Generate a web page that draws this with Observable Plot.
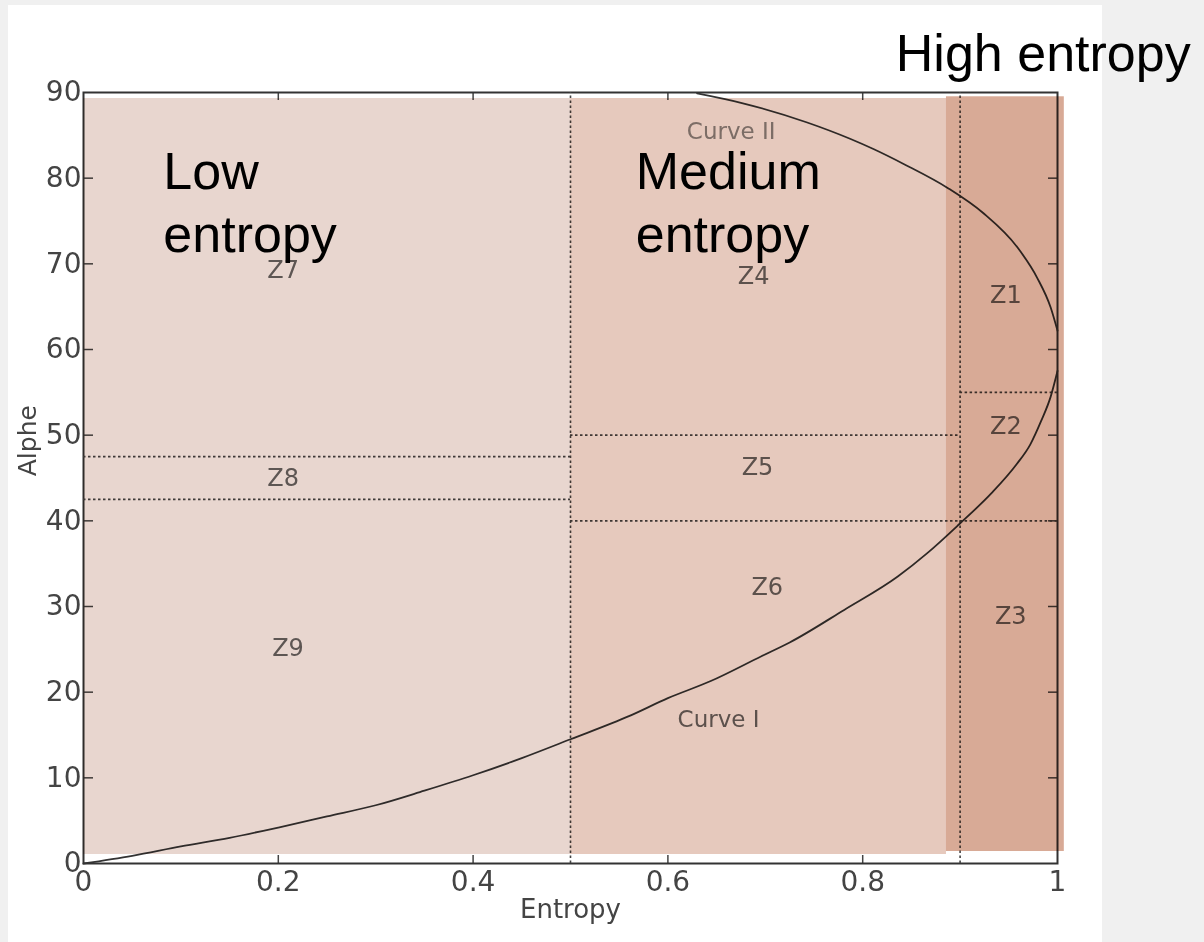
<!DOCTYPE html>
<html>
<head>
<meta charset="utf-8">
<script src="https://cdn.jsdelivr.net/npm/d3@7"></script>
<script src="https://cdn.jsdelivr.net/npm/@observablehq/plot@0.6"></script>
<style>
  html, body { margin: 0; padding: 0; background: #f0f0f0; }
  #panel { position: absolute; left: 8px; top: 5px; width: 1094px; height: 937px; background: #ffffff; }
  #chart { position: absolute; left: 0; top: 0; }
</style>
</head>
<body>
<div id="panel"></div>
<div id="chart"></div>
<script>
// Axis ticks
const xTicks = [0, 0.2, 0.4, 0.6, 0.8, 1];
const yTicks = [0, 10, 20, 30, 40, 50, 60, 70, 80, 90];
const xInnerTicks = [0.2, 0.4, 0.6, 0.8];
const yInnerTicks = [10, 20, 30, 40, 50, 60, 70, 80];

// Curve I (lower bound)
const curveI_H = [0, 0.05, 0.1, 0.15, 0.2, 0.25, 0.3, 0.35, 0.4, 0.45, 0.5, 0.56, 0.6, 0.644, 0.696, 0.725, 0.781, 0.836, 0.866, 0.899, 0.932, 0.958, 0.972, 0.983, 0.993, 1.0];
const curveI_A = [0, 0.9, 2.0, 3.0, 4.2, 5.5, 6.8, 8.5, 10.3, 12.3, 14.5, 17.2, 19.3, 21.3, 24.2, 25.8, 29.6, 33.5, 36.2, 39.6, 43.2, 46.6, 48.9, 51.6, 54.5, 57.5];

// Curve II (upper bound)
const curveII_H = [0.630, 0.675, 0.743, 0.787, 0.811, 0.843, 0.888, 0.924, 0.959, 0.979, 0.993, 1.0];
const curveII_A = [89.9, 88.8, 86.5, 84.6, 83.4, 81.6, 78.8, 75.9, 71.9, 68.4, 64.9, 62.2];

// Zone boundaries
const entropyBounds = [0.5, 0.9];
const alphaBound = [47.5, 42.5, 50, 40, 55, 40];
const alphaBoundFrom = [0, 0, 0.5, 0.5, 0.9, 0.9];
const alphaBoundTo = [0.5, 0.5, 0.9, 0.9, 1, 1];

// Zone labels
const zoneNames = ["Z1", "Z2", "Z3", "Z4", "Z5", "Z6", "Z7", "Z8", "Z9"];
const zoneH = [0.947, 0.947, 0.952, 0.688, 0.692, 0.702, 0.205, 0.205, 0.21];
const zoneA = [66.3, 51.0, 28.8, 68.6, 46.2, 32.2, 69.2, 45.0, 25.1];

const curveNames = ["Curve I", "Curve II"];
const curveLabelH = [0.652, 0.665];
const curveLabelA = [16.8, 85.4];

// Entropy region highlights
const regionNames = ["Low entropy", "Medium entropy", "High entropy"];
const regionH1 = [0, 0.5, 0.886];
const regionH2 = [0.5, 0.886, 1.007];
const regionA1 = [1.05, 1.05, 1.4];
const regionA2 = [89.3, 89.3, 89.5];
const regionColors = ["#e8d6cf", "#e6c9bd", "#d8aa96"];

// Region caption lines
const captionText = ["Low", "entropy", "Medium", "entropy", "High entropy"];
const captionH = [0.082, 0.082, 0.567, 0.567, 0.834];
const captionA = [80.7, 73.3, 80.7, 73.3, 94.5];

const curveI = curveI_H.map((h, i) => ({h, a: curveI_A[i]}));
const curveII = curveII_H.map((h, i) => ({h, a: curveII_A[i]}));
const hBounds = alphaBound.map((a, i) => ({a, h1: alphaBoundFrom[i], h2: alphaBoundTo[i]}));
const zones = zoneNames.map((z, i) => ({z, h: zoneH[i], a: zoneA[i]}));
const curveLabels = curveNames.map((c, i) => ({c, h: curveLabelH[i], a: curveLabelA[i]}));
const regions = regionNames.map((r, i) => ({r, h1: regionH1[i], h2: regionH2[i], a1: regionA1[i], a2: regionA2[i], color: regionColors[i]}));
const captions = captionText.map((t, i) => ({t, h: captionH[i], a: captionA[i]}));

const W = 1204, H = 942, mL = 83, mR = 147, mT = 92, mB = 79;
const frameW = W - mL - mR, frameH = H - mT - mB;

const chart = Plot.plot({
  width: W, height: H,
  marginLeft: mL, marginRight: mR, marginTop: mT, marginBottom: mB,
  x: {domain: [0, 1]},
  y: {domain: [0, 90]},
  style: {background: "transparent", fontFamily: "DejaVu Sans", overflow: "visible"},
  marks: [
    Plot.axisX({ticks: xTicks, tickSize: 0, tickPadding: 8, fontSize: 28, fill: "#444",
      tickFormat: d => d === 0 ? "0" : d === 1 ? "1" : d.toFixed(1), label: null}),
    Plot.axisY({ticks: yTicks, tickSize: 0, tickPadding: 2, fontSize: 28, fill: "#444", label: null}),
    // inward tick marks
    Plot.tickY(yInnerTicks, {y: d => d, insetRight: frameW - 10, stroke: "#444", strokeWidth: 1.5}),
    Plot.tickY(yInnerTicks, {y: d => d, insetLeft: frameW - 9, stroke: "#444", strokeWidth: 1.5}),
    Plot.tickX(xInnerTicks, {x: d => d, insetTop: frameH - 8, stroke: "#444", strokeWidth: 1.5}),
    Plot.tickX(xInnerTicks, {x: d => d, insetBottom: frameH - 8, stroke: "#444", strokeWidth: 1.5}),
    Plot.frame({stroke: "#333", strokeWidth: 2}),
    // zone boundaries
    Plot.ruleX(entropyBounds, {x: d => d, y1: 0, y2: 90, stroke: "#444", strokeWidth: 1.6, strokeDasharray: "2.5,2.5"}),
    Plot.ruleY(hBounds, {y: "a", x1: "h1", x2: "h2", stroke: "#444", strokeWidth: 1.6, strokeDasharray: "2.5,2.5"}),
    // curves
    Plot.line(curveI, {x: "h", y: "a", stroke: "#333", strokeWidth: 1.8, curve: "monotone-x"}),
    Plot.line(curveII, {x: "h", y: "a", stroke: "#333", strokeWidth: 1.8, curve: "monotone-x"}),
    // zone and curve labels
    Plot.text(zones, {x: "h", y: "a", text: "z", fontSize: 24, fill: "#666"}),
    Plot.text(curveLabels, {x: "h", y: "a", text: "c", fontSize: 23, fill: d => d.c === "Curve II" ? "#8a8a8a" : "#666"}),
    // axis titles
    Plot.text(["Entropy"], {x: [0.5], frameAnchor: "bottom", dy: 54, fontSize: 26, fill: "#444"}),
    Plot.text(["Alphe"], {y: [45.2], frameAnchor: "left", dx: -56, rotate: -90, fontSize: 25, fill: "#444"}),
    // highlighted entropy regions (semi-transparent look via multiply)
    Plot.rectY(regions, {x1: "h1", x2: "h2", y1: "a1", y2: "a2", fill: "color", mixBlendMode: "multiply"}),
    // captions
    Plot.text(captions, {x: "h", y: "a", text: "t", textAnchor: "start", fontSize: 52,
      fontFamily: "Liberation Sans, Arial, sans-serif", fill: "#000"})
  ]
});
document.getElementById("chart").appendChild(chart);
</script>
</body>
</html>
